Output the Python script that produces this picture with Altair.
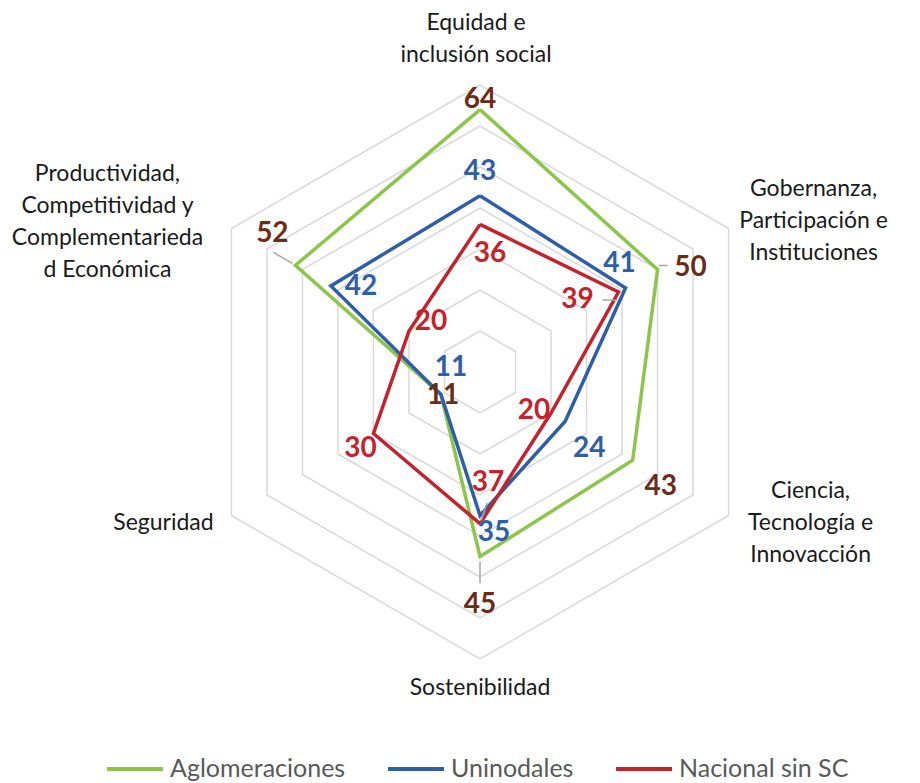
import altair as alt
import pandas as pd

# ---------------- data ----------------
categories = [
    "Equidad e\ninclusión social",
    "Gobernanza,\nParticipación e\nInstituciones",
    "Ciencia,\nTecnología e\nInnovacción",
    "Sostenibilidad",
    "Seguridad",
    "Productividad,\nCompetitividad y\nComplementarieda\nd Económica",
]
series_names = ["Aglomeraciones", "Uninodales", "Nacional sin SC"]
aglomeraciones = [64, 50, 43, 45, 11, 52]
uninodales = [43, 41, 24, 35, 11, 42]
nacional_sin_sc = [36, 39, 20, 37, 30, 20]
grid_levels = [10, 20, 30, 40, 50, 60, 70]

# ---------------- style / layout ----------------
line_colors = ["#8dc54b", "#2f5ea8", "#c4222d"]
label_colors = ["#6b2c16", "#2f5ea8", "#c4222d"]
FONT = "Lato"

W, H = 904, 775          # plot area (page margin 8px)
CX, CY = 472, 364        # radar centre in plot pixels
K = 287 / 70             # pixels per unit
xdom = [-CX / K, (W - CX) / K]
ydom = [-(H - CY) / K, CY / K]

# value-label offsets in pixels (right, down) from each data point
value_label_offsets = {
    "Aglomeraciones": [(0, -10), (33, -2), (28, 27), (0, 48), (2, 1), (-23, -31)],
    "Uninodales": [(0, -24), (-6, -24), (24, 28), (14, 17), (10, -27), (30, 1)],
    "Nacional sin SC": [(10, 30), (-41, 8), (-17, -2), (8, -41), (-13, 15), (22, -9)],
}
# category-label offsets (first line) in pixels from the outer (70) vertex
category_offsets = [(-4, -62), (85, -40), (82, -25), (0, 29), (-68, 7), (-124, -55)]
# leader lines: (series, category index, start offset, end offset)
leaders = [
    ("Aglomeraciones", 1, (1, -4), (10, -4)),
    ("Aglomeraciones", 3, (0, 5), (0, 27)),
    ("Aglomeraciones", 5, (-3, -2), (-22, -13)),
    ("Nacional sin SC", 1, (-1, 8), (-16, 8)),
    ("Nacional sin SC", 3, (1, -3), (7, -21)),
]

values = {"Aglomeraciones": aglomeraciones, "Uninodales": uninodales,
          "Nacional sin SC": nacional_sin_sc}

# ---------------- tables ----------------
line_rows = []
for s in series_names:
    for k in range(7):
        line_rows.append({"series": s, "k": k, "value": values[s][k % 6]})
lines_df = pd.DataFrame(line_rows)

grid_rows = []
for lv in grid_levels:
    for k in range(7):
        grid_rows.append({"level": lv, "k": k, "value": lv})
grid_df = pd.DataFrame(grid_rows)

lab_rows = []
for s in series_names:
    for k in range(6):
        dx, dy = value_label_offsets[s][k]
        lab_rows.append({"series": s, "k": k, "value": values[s][k],
                         "text": str(values[s][k]), "dxp": dx, "dyp": dy})
labels_df = pd.DataFrame(lab_rows)

cat_rows = []
for k, c in enumerate(categories):
    dx, dy = category_offsets[k]
    cat_rows.append({"k": k, "value": grid_levels[-1], "text": c, "dxp": dx, "dyp": dy})
cats_df = pd.DataFrame(cat_rows)

lead_rows = []
for s, k, (sx, sy), (ex, ey) in leaders:
    lead_rows.append({"series": s, "k": k, "value": values[s][k],
                      "sx": sx, "sy": sy, "ex": ex, "ey": ey})
lead_df = pd.DataFrame(lead_rows)

xs = alt.Scale(domain=xdom, nice=False, zero=False)
ys = alt.Scale(domain=ydom, nice=False, zero=False)

px = "datum.value * sin(datum.k * PI / 3)"
py = "datum.value * cos(datum.k * PI / 3)"

grid = alt.Chart(grid_df).transform_calculate(x=px, y=py).mark_line(
    color="#d9d9d9", strokeWidth=1.5
).encode(
    x=alt.X("x:Q", scale=xs, axis=None),
    y=alt.Y("y:Q", scale=ys, axis=None),
    detail="level:N",
    order="k:Q",
)

color_scale = alt.Scale(domain=series_names, range=line_colors)
legend = alt.Legend(
    title=None, orient="none", legendX=97, legendY=731, direction="horizontal",
    symbolType="stroke", symbolSize=3136, symbolStrokeWidth=4,
    labelFont=FONT, labelFontSize=25, labelColor="#595959", labelOffset=5,
    labelLimit=400, columnPadding=34, padding=0, symbolOffset=0,
)

series_layers = []
for s in series_names:
    series_layers.append(
        alt.Chart(lines_df).transform_filter(alt.datum.series == s)
        .transform_calculate(x=px, y=py)
        .mark_line(strokeWidth=3.5, strokeJoin="miter")
        .encode(
            x=alt.X("x:Q", scale=xs, axis=None),
            y=alt.Y("y:Q", scale=ys, axis=None),
            color=alt.Color("series:N", scale=color_scale, legend=legend),
            order="k:Q",
        )
    )

lead = alt.Chart(lead_df).transform_calculate(
    x=px + f" + datum.sx / {K}", y=py + f" - datum.sy / {K}",
    x2=px + f" + datum.ex / {K}", y2=py + f" - datum.ey / {K}",
).mark_rule(color="#a6a6a6", strokeWidth=1.5).encode(
    x=alt.X("x:Q", scale=xs, axis=None),
    y=alt.Y("y:Q", scale=ys, axis=None),
    x2="x2:Q", y2="y2:Q",
)

vlabels = alt.Chart(labels_df).transform_calculate(
    x=px + f" + datum.dxp / {K}", y=py + f" - datum.dyp / {K}",
).mark_text(font=FONT, fontSize=28, fontWeight="bold", align="center", baseline="middle").encode(
    x=alt.X("x:Q", scale=xs, axis=None),
    y=alt.Y("y:Q", scale=ys, axis=None),
    text="text:N",
    fill=alt.Fill("series:N", scale=alt.Scale(domain=series_names, range=label_colors), legend=None),
)

clabels = alt.Chart(cats_df).transform_calculate(
    x=px + f" + datum.dxp / {K}", y=py + f" - datum.dyp / {K}",
).mark_text(font=FONT, fontSize=23, color="#1a1a1a", align="center", baseline="middle",
            lineBreak="\n", lineHeight=32).encode(
    x=alt.X("x:Q", scale=xs, axis=None),
    y=alt.Y("y:Q", scale=ys, axis=None),
    text="text:N",
)

chart = alt.layer(grid, *series_layers, lead, vlabels, clabels).properties(
    width=W, height=H, autosize=alt.AutoSizeParams(type="none"), padding=0,
    background="white",
).configure_view(stroke=None)

chart.save("out.html", embed_options={"renderer": "svg", "actions": False})
